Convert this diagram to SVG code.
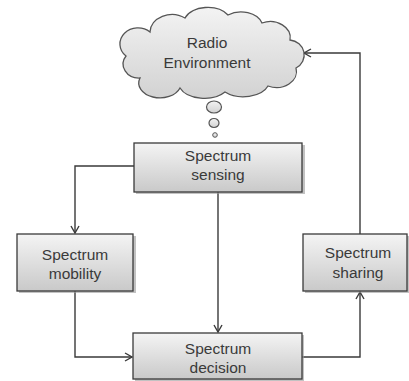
<svg xmlns="http://www.w3.org/2000/svg" width="409" height="381" viewBox="0 0 409 381">
<style>
.box{fill:url(#g);stroke:#3a3a3a;stroke-width:1.3}
.sh{fill:#9a9a9a;opacity:0.6}
.t{font-family:"Liberation Sans",Arial,sans-serif;font-size:15.5px;fill:#3a3a3a;text-anchor:middle}
.c{fill:none;stroke:#3a3a3a;stroke-width:1.4;marker-end:url(#a)}
</style>
<defs>
<linearGradient id="g" x1="0" y1="0" x2="0" y2="1">
<stop offset="0" stop-color="#f4f4f4"/>
<stop offset="1" stop-color="#c9c9c9"/>
</linearGradient>
<linearGradient id="cg" x1="0" y1="0" x2="0" y2="1">
<stop offset="0" stop-color="#f3f3f3"/>
<stop offset="1" stop-color="#d2d2d2"/>
</linearGradient>
<marker id="a" markerWidth="10" markerHeight="10" refX="9" refY="5" orient="auto" markerUnits="userSpaceOnUse">
<polyline points="2,1 9,5 2,9" fill="none" stroke="#3a3a3a" stroke-width="1.4"/>
</marker>
</defs>
<g id="connectors">
<polyline class="c" points="134,166 75,166 75,233"/>
<polyline class="c" points="218,192 218,332"/>
<polyline class="c" points="75,291 75,357 132,357"/>
<polyline class="c" points="302,357 360,357 360,292"/>
<polyline class="c" points="360,234 360,53 304,53"/>
</g>
<g id="radio-environment">
<path d="M140,78 A16,14 0 0 1 126,56 A18,16 0 0 1 150,32 A22,18 0 0 1 185,18 A24,16 0 0 1 228,15 A22,16 0 0 1 262,23 A20,16 0 0 1 290,40 A16,15 0 0 1 296,68 A20,16 0 0 1 268,86 A26,16 0 0 1 225,92 A26,16 0 0 1 180,88 A20,14 0 0 1 140,78 Z" fill="url(#cg)" stroke="#555" stroke-width="1.3"/>
<ellipse cx="214" cy="107" rx="7.5" ry="6" fill="url(#cg)" stroke="#555" stroke-width="1.2"/>
<ellipse cx="214" cy="123" rx="5" ry="4.5" fill="url(#cg)" stroke="#555" stroke-width="1.2"/>
<circle cx="215" cy="135" r="2.3" fill="url(#cg)" stroke="#555" stroke-width="1"/>
<text class="t" x="207" y="48">Radio</text>
<text class="t" x="207" y="68">Environment</text>
</g>
<g id="spectrum-sensing">
<rect class="sh" x="136" y="145" width="169" height="49"/>
<rect class="box" x="134" y="143" width="168" height="49"/>
<text class="t" x="218" y="161">Spectrum</text>
<text class="t" x="218" y="180">sensing</text>
</g>
<g id="spectrum-mobility">
<rect class="sh" x="19" y="236" width="117" height="57"/>
<rect class="box" x="17" y="234" width="116" height="57"/>
<text class="t" x="75" y="260">Spectrum</text>
<text class="t" x="75" y="279">mobility</text>
</g>
<g id="spectrum-sharing">
<rect class="sh" x="305" y="236" width="104" height="57"/>
<rect class="box" x="303" y="234" width="104" height="57"/>
<text class="t" x="358" y="258">Spectrum</text>
<text class="t" x="358" y="278">sharing</text>
</g>
<g id="spectrum-decision">
<rect class="sh" x="135" y="335" width="169" height="46"/>
<rect class="box" x="133" y="333" width="169" height="46"/>
<text class="t" x="218" y="354">Spectrum</text>
<text class="t" x="218" y="373">decision</text>
</g>
</svg>
